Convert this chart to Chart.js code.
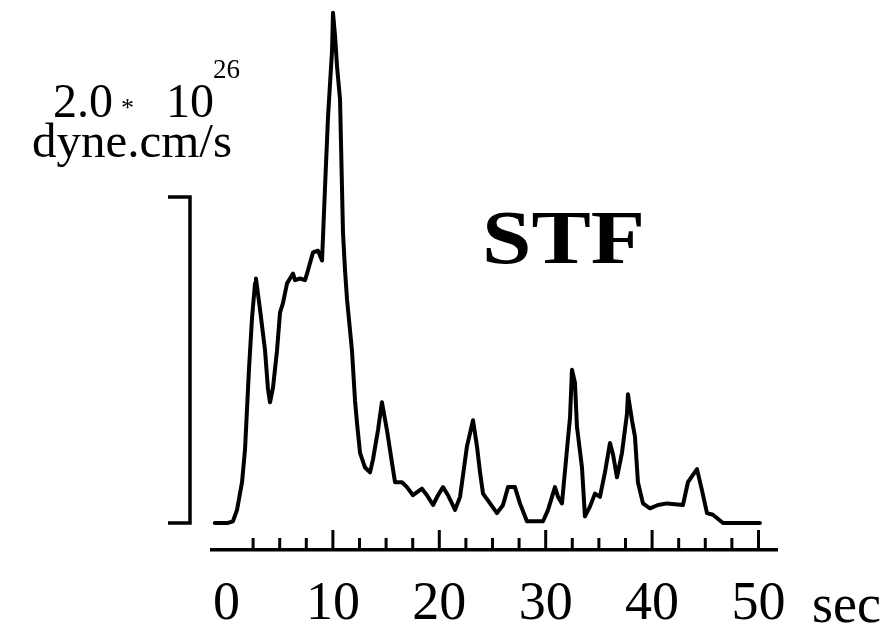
<!DOCTYPE html>
<html>
<head>
<meta charset="utf-8">
<script src="https://cdn.jsdelivr.net/npm/chart.js@4/dist/chart.umd.min.js"></script>
<style>
  html, body { margin: 0; padding: 0; background: #fff; }
  #wrap { width: 896px; height: 631px; }
</style>
</head>
<body>
<div id="wrap"><canvas id="c" width="896" height="631"></canvas></div>
<script>
// time (sec)
const times = [
  -1.1, 0.14, 0.6, 0.99, 1.46, 1.74, 2.11, 2.40, 2.68, 2.77,
  3.15, 3.62, 3.90, 4.09, 4.37, 4.75, 5.03, 5.31, 5.69, 5.97,
  6.25, 6.44, 6.91, 7.38, 7.66, 8.13, 8.60, 8.98, 9.26, 9.54,
  9.92, 10.01, 10.20, 10.39, 10.67, 10.95, 11.14, 11.33, 11.79, 12.08,
  12.27, 12.55, 13.02, 13.49, 13.77, 14.24, 14.61, 15.08, 15.55, 15.84,
  16.49, 16.96, 17.53, 18.37, 18.84, 19.41, 19.88, 20.35, 20.82, 21.48,
  21.95, 22.60, 23.17, 23.54, 23.83, 24.11, 24.77, 25.42, 25.99, 26.46,
  27.11, 27.58, 28.24, 29.75, 30.22, 30.87, 31.16, 31.53, 32.00, 32.29,
  32.47, 32.75, 32.94, 33.41, 33.69, 34.16, 34.63, 35.10, 35.57, 36.04,
  36.33, 36.70, 37.17, 37.64, 37.73, 38.11, 38.39, 38.67, 39.14, 39.80,
  40.55, 41.40, 42.90, 43.37, 44.22, 44.69, 45.16, 45.72, 46.66, 50.14
];
// moment rate (x 10^26 dyne.cm/s)
const momentRate = [
  0, 0, 0.01, 0.08, 0.25, 0.45, 0.94, 1.26, 1.47, 1.50,
  1.31, 1.06, 0.82, 0.74, 0.83, 1.06, 1.29, 1.35, 1.47, 1.50,
  1.53, 1.49, 1.50, 1.49, 1.55, 1.66, 1.67, 1.61, 2.06, 2.49,
  2.90, 3.13, 2.99, 2.80, 2.60, 1.78, 1.55, 1.37, 1.06, 0.75,
  0.61, 0.43, 0.34, 0.31, 0.39, 0.57, 0.74, 0.57, 0.37, 0.25,
  0.25, 0.22, 0.17, 0.21, 0.17, 0.11, 0.17, 0.22, 0.17, 0.08,
  0.16, 0.47, 0.63, 0.47, 0.31, 0.18, 0.12, 0.06, 0.11, 0.22,
  0.22, 0.12, 0.01, 0.01, 0.08, 0.22, 0.16, 0.12, 0.45, 0.65,
  0.94, 0.86, 0.59, 0.34, 0.04, 0.10, 0.18, 0.16, 0.31, 0.49,
  0.42, 0.28, 0.43, 0.67, 0.79, 0.63, 0.53, 0.25, 0.12, 0.09,
  0.11, 0.12, 0.11, 0.25, 0.33, 0.20, 0.06, 0.05, 0, 0
];
// x tick labels
const tickLabels = [0, 10, 20, 30, 40, 50];
const xUnit = 'sec';
const scaleBarValue = 2.0;
const scaleBarText = ['2.0', '*', '10', '26', 'dyne.cm/s'];
const title = 'STF';

const SERIF = '"Liberation Serif", "DejaVu Serif", serif';

const annotations = {
  id: 'annotations',
  afterDraw(chart) {
    const ctx = chart.ctx;
    const xs = chart.scales.x, ys = chart.scales.y;
    const bottom = chart.chartArea.bottom;
    ctx.save();
    ctx.strokeStyle = '#000';
    ctx.fillStyle = '#000';
    // tick marks pointing up from the axis
    ctx.lineWidth = 3;
    xs.ticks.forEach(t => {
      const v = t.value;
      if (v <= 0 || v > 50.001 || Math.abs(v / 2.5 - Math.round(v / 2.5)) > 1e-6) return;
      const major = Math.abs(v / 10 - Math.round(v / 10)) < 1e-6;
      const px = xs.getPixelForValue(v);
      ctx.beginPath();
      ctx.moveTo(px, bottom);
      ctx.lineTo(px, bottom - (major ? 20 : 12));
      ctx.stroke();
    });
    // unit text after last label
    ctx.font = '54px ' + SERIF;
    ctx.textAlign = 'left';
    ctx.textBaseline = 'alphabetic';
    ctx.fillText(xUnit, 812, 622);

    // scale bar
    const y0 = ys.getPixelForValue(0);
    const y1 = ys.getPixelForValue(scaleBarValue);
    ctx.lineWidth = 3.5;
    ctx.lineCap = 'butt';
    ctx.lineJoin = 'miter';
    ctx.beginPath();
    ctx.moveTo(168, y1);
    ctx.lineTo(190, y1);
    ctx.lineTo(190, y0);
    ctx.lineTo(168, y0);
    ctx.stroke();

    // scale bar label
    ctx.font = '48px ' + SERIF;
    ctx.fillText(scaleBarText[0], 53, 117);
    ctx.font = '26px ' + SERIF;
    ctx.fillText(scaleBarText[1], 121, 116);
    ctx.font = '48px ' + SERIF;
    ctx.fillText(scaleBarText[2], 166, 117);
    ctx.font = '27px ' + SERIF;
    ctx.fillText(scaleBarText[3], 213, 78);
    ctx.font = '49px ' + SERIF;
    ctx.fillText(scaleBarText[4], 32, 157);

    // title
    ctx.font = 'bold 76px ' + SERIF;
    const w = ctx.measureText(title).width;
    ctx.save();
    ctx.translate(482, 263);
    ctx.scale(163 / w, 1);
    ctx.fillText(title, 0, 0);
    ctx.restore();

    ctx.restore();
  }
};

new Chart(document.getElementById('c'), {
  type: 'line',
  data: {
    datasets: [{
      data: times.map((t, i) => ({ x: t, y: momentRate[i] })),
      borderColor: '#000',
      borderWidth: 4,
      pointRadius: 0,
      tension: 0,
      fill: false,
      borderJoinStyle: 'round',
      borderCapStyle: 'round'
    }]
  },
  options: {
    responsive: false,
    animation: false,
    devicePixelRatio: 1,
    layout: { padding: { left: 212, right: 119, top: 5, bottom: 0 } },
    plugins: { legend: { display: false }, tooltip: { enabled: false }, title: { display: false } },
    scales: {
      x: {
        type: 'linear',
        min: -1.363,
        max: 51.74,
        afterFit(scale) { scale.height = 81; },
        grid: { display: false, drawTicks: false },
        border: { display: true, color: '#000', width: 3.5 },
        ticks: {
          stepSize: 2.5,
          includeBounds: false,
          autoSkip: false,
          maxRotation: 0,
          padding: 22,
          color: '#000',
          font: { family: SERIF, size: 54 },
          callback: (v) => tickLabels.includes(v) ? String(v) : ''
        }
      },
      y: {
        display: false,
        min: -0.166,
        max: 3.178
      }
    }
  },
  plugins: [annotations]
});
</script>
</body>
</html>
